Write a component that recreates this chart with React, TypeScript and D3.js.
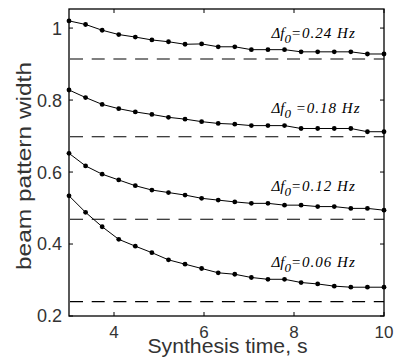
import React from "react"
import * as d3 from "d3"

// synthesis time samples: 20 points from 3 to 10 s
const times = d3.range(20).map((i) => 3 + (i * 7) / 19)

const w024 = [1.02, 1.01, 0.994, 0.982, 0.975, 0.967, 0.962, 0.955, 0.956, 0.948, 0.948, 0.94, 0.94, 0.94, 0.934, 0.934, 0.934, 0.934, 0.928, 0.928]
const w018 = [0.828, 0.807, 0.788, 0.776, 0.767, 0.76, 0.752, 0.747, 0.74, 0.735, 0.733, 0.729, 0.729, 0.729, 0.721, 0.721, 0.721, 0.721, 0.712, 0.712]
const w012 = [0.652, 0.617, 0.594, 0.578, 0.562, 0.55, 0.543, 0.536, 0.527, 0.522, 0.517, 0.513, 0.513, 0.508, 0.508, 0.504, 0.504, 0.499, 0.499, 0.494]
const w006 = [0.534, 0.488, 0.448, 0.413, 0.394, 0.376, 0.356, 0.344, 0.332, 0.32, 0.316, 0.307, 0.302, 0.302, 0.293, 0.289, 0.283, 0.28, 0.28, 0.28]

// asymptotic widths (dashed)
const limits = [0.914, 0.698, 0.469, 0.24]
const labels = ["=0.24 Hz", " =0.18 Hz", "=0.12 Hz", "=0.06 Hz"]
const labelY = [0.972, 0.764, 0.547, 0.336]

const xTicks = [4, 6, 8, 10]
const yTicks = [0.2, 0.4, 0.6, 0.8, 1]

export default function App() {
  const margin = { top: 9, right: 10, bottom: 45, left: 69 }
  const width = 315
  const height = 307

  const x = d3.scaleLinear().domain([3, 10]).range([0, width])
  const y = d3.scaleLinear().domain([0.2, 1.053]).range([height, 0])

  const series = [w024, w018, w012, w006]
  const line = d3
    .line<number>()
    .x((_, i) => x(times[i]))
    .y((d) => y(d))

  const fmt = (v: number) => (v === 1 ? "1" : d3.format(".1f")(v))
  const sans = "'Liberation Sans', Arial, sans-serif"
  const serif = "'Liberation Serif', 'Times New Roman', serif"

  return (
    <svg width={394} height={361} style={{ position: "absolute", left: 0, top: 0 }}>
      <g transform={"translate(" + margin.left + "," + margin.top + ")"}>
        {limits.map((v, i) => (
          <line key={"d" + i} x1={1} x2={width} y1={y(v)} y2={y(v)} stroke="#000" strokeWidth={1.1} strokeDasharray="13,8.7" />
        ))}
        {series.map((s, k) => (
          <g key={"s" + k}>
            <path d={line(s) || ""} fill="none" stroke="#000" strokeWidth={1} />
            {s.map((v, i) => (
              <circle key={i} cx={x(times[i])} cy={y(v)} r={2.4} fill="#000" />
            ))}
          </g>
        ))}
        {labels.map((t, i) => (
          <text key={"l" + i} x={x(7.5)} y={y(labelY[i])} fontFamily={serif} fontStyle="italic" fontSize={15} fill="#000" xmlSpace="preserve">
            Δf
            <tspan dy={5} fontSize={13}>0</tspan>
            <tspan dy={-5} letterSpacing={1}>{t}</tspan>
          </text>
        ))}
        <rect x={0} y={0} width={width} height={height} fill="none" stroke="#000" strokeWidth={1.3} />
        {xTicks.map((t) => (
          <g key={"x" + t}>
            <line x1={x(t)} x2={x(t)} y1={height} y2={height - 4} stroke="#000" />
            <line x1={x(t)} x2={x(t)} y1={0} y2={4} stroke="#000" />
            <text x={x(t)} y={height + 22} textAnchor="middle" fontFamily={sans} fontSize={17} fill="#333">
              {t}
            </text>
          </g>
        ))}
        {yTicks.map((t) => (
          <g key={"y" + t}>
            <line x1={0} x2={4} y1={y(t)} y2={y(t)} stroke="#000" />
            <line x1={width} x2={width - 4} y1={y(t)} y2={y(t)} stroke="#000" />
            <text x={-7} y={y(t)} dy="0.36em" textAnchor="end" fontFamily={sans} fontSize={18} fill="#333">
              {fmt(t)}
            </text>
          </g>
        ))}
        <text x={width / 2 + 1} y={height + 37} textAnchor="middle" fontFamily={sans} fontSize={20} fill="#333" textLength={160} lengthAdjust="spacingAndGlyphs">
          Synthesis time, s
        </text>
        <text transform={"translate(" + -38 + "," + 157 + ") rotate(-90)"} textAnchor="middle" fontFamily={sans} fontSize={21} fill="#333" textLength={208} lengthAdjust="spacingAndGlyphs">
          beam pattern width
        </text>
      </g>
    </svg>
  )
}
